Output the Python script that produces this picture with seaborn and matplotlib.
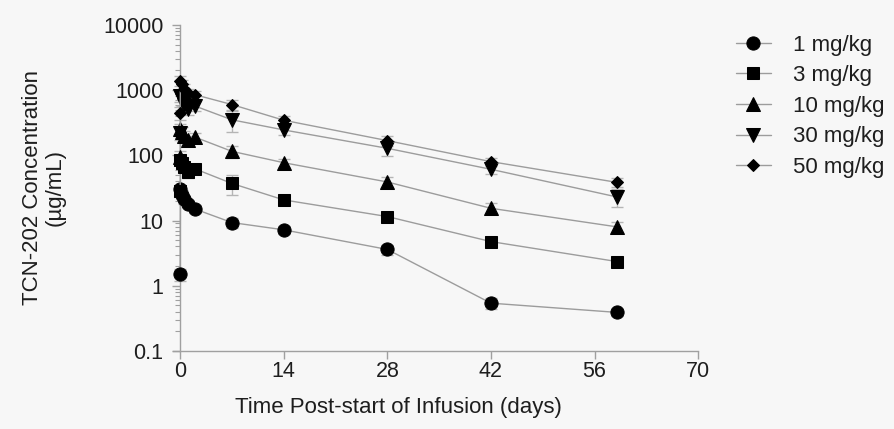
import matplotlib
matplotlib.use("Agg")
import matplotlib.pyplot as plt
import numpy as np
import pandas as pd
import seaborn as sns

# sampling times (days post-start of infusion)
days = [0, 0.04, 0.25, 0.5, 1, 2, 7, 14, 28, 42, 59]

dose_labels = ["1 mg/kg", "3 mg/kg", "10 mg/kg", "30 mg/kg", "50 mg/kg"]

# mean concentrations (ug/mL)
conc_1 = [1.5, 30, 25, 21, 18, 15, 9.3, 7.2, 3.6, 0.54, 0.39]
conc_3 = [28, 85, 75, 65, 55, 62, 37, 20.7, 11.5, 4.75, 2.35]
conc_10 = [95, 250, 230, 200, 170, 190, 115, 77, 39, 15.4, 8.0]
conc_30 = [220, 800, 700, 600, 520, 570, 350, 245, 128, 61, 23]
conc_50 = [450, 1400, 1250, 1050, 900, 850, 600, 345, 168, 80, 38.5]

# standard deviations
sd_1 = [0.3, 5, 4, 3, 2, 2, 1.5, 1, 0.6, 0.1, 0.05]
sd_3 = [5, 15, 12, 10, 10, 10, 12, 3, 2, 0.8, 0.4]
sd_10 = [20, 50, 40, 35, 30, 30, 25, 12, 8, 3, 1.5]
sd_30 = [50, 150, 120, 100, 100, 100, 120, 40, 30, 10, 7]
sd_50 = [100, 250, 200, 180, 150, 120, 100, 50, 30, 12, 6]

concs = [conc_1, conc_3, conc_10, conc_30, conc_50]
sds = [sd_1, sd_3, sd_10, sd_30, sd_50]
markers = ["o", "s", "^", "v", "D"]
msizes = [9.5, 9, 9.5, 9.5, 6.5]

sns.set_style("ticks")
plt.rcParams["font.family"] = ["Liberation Sans", "DejaVu Sans"]

fig = plt.figure(figsize=(8.95, 4.29), dpi=100, facecolor="#f7f7f7")
ax = fig.add_axes([0.193, 0.182, 0.587, 0.76])
ax.set_facecolor("#f7f7f7")

line_col = "#9c9c9c"
for lab, c, sd, m, ms in zip(dose_labels, concs, sds, markers, msizes):
    df = pd.DataFrame({"day": days, "conc": c, "sd": sd})
    ax.errorbar(df["day"], df["conc"], yerr=df["sd"], fmt="none",
                ecolor="#b5b5b5", elinewidth=1, capsize=4, capthick=1, zorder=1)
    sns.lineplot(data=df, x="day", y="conc", ax=ax, color=line_col, linewidth=1,
                 marker=m, markersize=ms, markerfacecolor="black",
                 markeredgecolor="black", label=lab, estimator=None, zorder=3)

ax.set_yscale("log")
ax.set_ylim(0.1, 10000)
ax.set_xlim(-1, 70)
ax.set_xticks([0, 14, 28, 42, 56, 70])
ax.set_yticks([0.1, 1, 10, 100, 1000, 10000])
ax.set_yticklabels(["0.1", "1", "10", "100", "1000", "10000"])

ax.spines["top"].set_visible(False)
ax.spines["right"].set_visible(False)
ax.spines["left"].set_position(("data", 0))
for s in ["left", "bottom"]:
    ax.spines[s].set_color("#a0a0a0")
    ax.spines[s].set_linewidth(1)

ax.tick_params(axis="both", which="major", colors="#a0a0a0", labelcolor="#1e1e1e",
               labelsize=15.5, length=6, width=1)
ax.tick_params(axis="y", which="major", pad=6)
ax.tick_params(axis="x", which="major", pad=1)
ax.tick_params(axis="y", which="minor", colors="#a0a0a0", length=3.5, width=0.8)

ax.set_xlabel("Time Post-start of Infusion (days)", fontsize=16, color="#1e1e1e")
ax.set_ylabel("TCN-202 Concentration\n(\u00b5g/mL)", fontsize=16, color="#1e1e1e",
              linespacing=1.1)
ax.xaxis.set_label_coords(0.429, -0.14)
ax.yaxis.set_label_coords(-0.204, 0.5)

leg = ax.legend(loc="upper left", bbox_to_anchor=(0.812, 0.94),
                bbox_transform=fig.transFigure, frameon=False, fontsize=16,
                handlelength=1.6, handletextpad=1.0, labelspacing=0.43,
                borderaxespad=0)
for t in leg.get_texts():
    t.set_color("#1e1e1e")

fig.savefig("out.png", dpi=100, facecolor=fig.get_facecolor())
